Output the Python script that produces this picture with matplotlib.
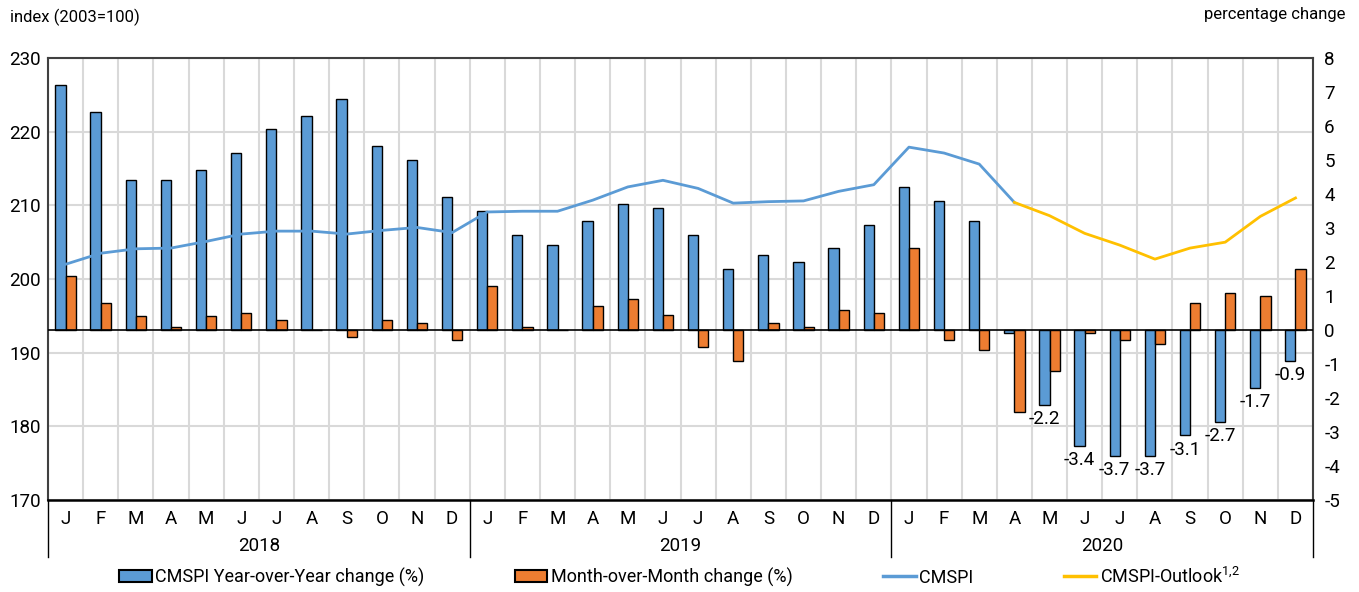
import numpy as np
import matplotlib
matplotlib.use("Agg")
import matplotlib.pyplot as plt
from matplotlib.patches import Patch
from matplotlib.lines import Line2D

plt.rcParams['font.family'] = ['Roboto', 'DejaVu Sans']
plt.rcParams['axes.unicode_minus'] = False
plt.rcParams['mathtext.fontset'] = 'custom'
plt.rcParams['mathtext.rm'] = 'Roboto'

months = ['J', 'F', 'M', 'A', 'M', 'J', 'J', 'A', 'S', 'O', 'N', 'D']
years = ['2018', '2019', '2020']

# CMSPI index, Jan 2018 - Apr 2020
cmspi = [202.0, 203.5, 204.1, 204.2, 205.1, 206.1, 206.5, 206.5, 206.1, 206.6, 207.0, 206.3,
         209.1, 209.2, 209.2, 210.7, 212.5, 213.4, 212.3, 210.3, 210.5, 210.6, 211.9, 212.8,
         217.9, 217.1, 215.6, 210.4]
# outlook, Apr 2020 - Dec 2020
outlook = [210.4, 208.6, 206.2, 204.6, 202.7, 204.2, 205.0, 208.5, 211.0]

yoy = [7.2, 6.4, 4.4, 4.4, 4.7, 5.2, 5.9, 6.3, 6.8, 5.4, 5.0, 3.9,
       3.5, 2.8, 2.5, 3.2, 3.7, 3.6, 2.8, 1.8, 2.2, 2.0, 2.4, 3.1,
       4.2, 3.8, 3.2, -0.1, -2.2, -3.4, -3.7, -3.7, -3.1, -2.7, -1.7, -0.9]
mom = [1.6, 0.8, 0.4, 0.1, 0.4, 0.5, 0.3, 0.0, -0.2, 0.3, 0.2, -0.3,
       1.3, 0.1, 0.0, 0.7, 0.9, 0.45, -0.5, -0.9, 0.2, 0.1, 0.6, 0.5,
       2.4, -0.3, -0.6, -2.4, -1.2, -0.1, -0.3, -0.4, 0.8, 1.1, 1.0, 1.8]
labeled = range(28, 36)

BLUE = '#5B9BD5'
ORANGE = '#ED7D31'
GOLD = '#FFC000'
GRID = '#d9d9d9'

n = len(yoy)
x = np.arange(n)

fig = plt.figure(figsize=(13.59, 5.92), dpi=100)
ax = fig.add_subplot(111)
fig.subplots_adjust(left=0.0353, right=0.9662, top=0.902, bottom=0.1554)

# bottom axes: left index scale + grid
ax.set_xlim(-0.5, n - 0.5)
ax.set_ylim(170, 230)
ax.set_yticks(np.arange(170, 231, 10))
ax.set_xticks(x)
ax.set_xticklabels(months * 3)
ax.set_xticks(np.arange(n + 1) - 0.5, minor=True)
ax.grid(True, which='minor', axis='x', color=GRID, lw=1.5)
ax.grid(True, which='major', axis='y', color=GRID, lw=1.5)
ax.tick_params(axis='both', which='both', length=0, labelsize=13.5)
ax.tick_params(axis='x', pad=7)
ax.tick_params(axis='y', pad=5)
for s in ['top', 'left', 'right']:
    ax.spines[s].set_color('#404040')
    ax.spines[s].set_linewidth(1.5)
ax.spines['bottom'].set_linewidth(1.8)

# bars on right scale
ax2 = ax.twinx()
ax2.set_ylim(-5, 8)
ax2.set_yticks(np.arange(-5, 9, 1))
ax2.tick_params(axis='y', length=0, labelsize=13.5, pad=8)
w = 0.29
ax2.bar(x - w / 2, yoy, width=w, color=BLUE, edgecolor='black', lw=1)
ax2.bar(x + w / 2, mom, width=w, color=ORANGE, edgecolor='black', lw=1)
ax2.axhline(0, color='black', lw=1.2)
for s in ax2.spines.values():
    s.set_visible(False)
for i in labeled:
    ax2.annotate(f'{yoy[i]:.1f}', (x[i] - w / 2, yoy[i]), xytext=(0, -4),
                 textcoords='offset points', ha='center', va='top', fontsize=13.5)

# lines on top
ax3 = ax.twinx()
ax3.set_ylim(170, 230)
ax3.set_yticks([])
for s in ax3.spines.values():
    s.set_visible(False)
ax3.plot(x[:len(cmspi)], cmspi, color=BLUE, lw=2)
ax3.plot(x[n - len(outlook):], outlook, color=GOLD, lw=2)

# year labels and separators under the axis
for k, yr in enumerate(years):
    ax.text(k * 12 + 5.5, -0.105, yr, transform=ax.get_xaxis_transform(),
            ha='center', va='center', fontsize=13.5)
for b in [-0.5, 11.5, 23.5, 35.5]:
    ax.axvline(b, ymin=-0.13, ymax=0, color='black', lw=1, clip_on=False)

fig.text(0.007, 0.97, 'index (2003=100)', ha='left', va='center', fontsize=12)
fig.text(0.99, 0.975, 'percentage change', ha='right', va='center', fontsize=12)

handles = [Patch(facecolor=BLUE, edgecolor='black', lw=1.5),
           Patch(facecolor=ORANGE, edgecolor='black', lw=1.5),
           Line2D([], [], color=BLUE, lw=2.5),
           Line2D([], [], color=GOLD, lw=2.5)]
names = ['CMSPI Year-over-Year change (%)', 'Month-over-Month change (%)',
         'CMSPI', 'CMSPI-Outlook$^{1{,}2}$']
fig.legend(handles, names, loc='center', bbox_to_anchor=(0.5, 0.026), ncol=4,
           frameon=False, fontsize=13, handlelength=1.8, handleheight=0.6,
           handletextpad=0.2, columnspacing=5.0)

fig.savefig('out.png', dpi=100)
